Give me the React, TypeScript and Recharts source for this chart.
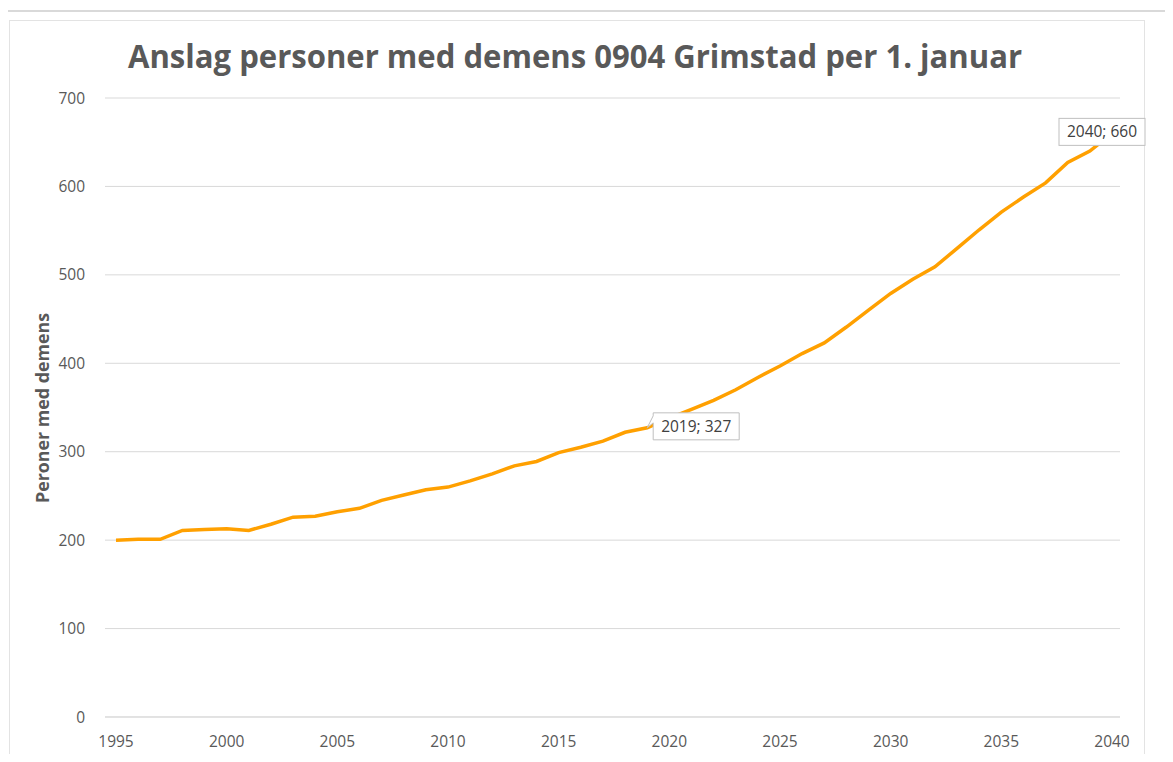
import React from "react";
import { LineChart, Line, XAxis, YAxis, CartesianGrid, LabelList } from "recharts";

const years = [
  1995, 1996, 1997, 1998, 1999, 2000, 2001, 2002, 2003, 2004, 2005, 2006, 2007, 2008, 2009, 2010,
  2011, 2012, 2013, 2014, 2015, 2016, 2017, 2018, 2019, 2020, 2021, 2022, 2023, 2024, 2025, 2026,
  2027, 2028, 2029, 2030, 2031, 2032, 2033, 2034, 2035, 2036, 2037, 2038, 2039, 2040,
];
const persons = [
  200, 201, 201, 211, 212, 213, 211, 218, 226, 227, 232, 236, 245, 251, 257, 260,
  267, 275, 284, 289, 299, 305, 312, 322, 327, 338, 348, 358, 370, 384, 397, 411,
  423, 441, 460, 479, 495, 509, 530, 551, 571, 588, 604, 627, 640, 660,
];
const xTicks = [1995, 2000, 2005, 2010, 2015, 2020, 2025, 2030, 2035, 2040];
const yTicks = [0, 100, 200, 300, 400, 500, 600, 700];
const labeledYears = [2019, 2040];

const data = years.map((year, i) => ({ year, value: persons[i] }));

const grey = "#595959";
const font = "'Open Sans', sans-serif";

// Excel-style data callouts, only for the highlighted years
function Callout(props: any) {
  const { x, y, index } = props;
  const d = data[index];
  if (!d || !labeledYears.includes(d.year)) return null;
  const text = `${d.year}; ${d.value}`;
  const w = 86;
  const h = 27;
  if (d.year === 2040) {
    const bx = x - 53;
    const by = y - 15;
    return (
      <g>
        <rect x={bx} y={by} width={w} height={h} fill="#fff" stroke="#bfbfbf" strokeWidth={1} />
        <text x={bx + w / 2} y={by + 19} textAnchor="middle" fontFamily={font} fontSize={15.5} fill="#404040">
          {text}
        </text>
      </g>
    );
  }
  const bx = x + 6;
  const by = y - 15;
  return (
    <g>
      <path
        d={`M${bx},${by + h} L${bx},${by + 10} L${x},${y} L${bx},${by + 3} L${bx},${by} L${bx + w},${by} L${bx + w},${by + h} Z`}
        fill="#fff"
        stroke="#bfbfbf"
        strokeWidth={1}
      />
      <text x={bx + w / 2} y={by + 19} textAnchor="middle" fontFamily={font} fontSize={15.5} fill="#404040">
        {text}
      </text>
    </g>
  );
}

export default function App() {
  return (
    <div style={{ position: "relative", margin: -8, width: 1173, height: 762, background: "#fff", overflow: "hidden" }}>
      {/* outer and inner frames */}
      <div style={{ position: "absolute", left: 4, top: 10, width: 1200, height: 800, border: "2px solid #d9d9d9" }} />
      <div style={{ position: "absolute", left: 9, top: 20, width: 1134, height: 739, border: "1px solid #e3e3e3" }} />
      <div style={{ position: "absolute", left: 0, top: 0 }}>
        <LineChart width={1173} height={762} data={data} margin={{ top: 98, right: 53, bottom: 15, left: 45 }}>
          <CartesianGrid vertical={false} stroke="#d9d9d9" />
          <XAxis
            dataKey="year"
            type="number"
            domain={[1995, 2040]}
            ticks={xTicks}
            padding={{ left: 11, right: 8 }}
            height={30}
            axisLine={{ stroke: "#d9d9d9" }}
            tickLine={false}
            tickMargin={13}
            tick={{ fill: grey, fontSize: 15.5, fontFamily: font }}
          />
          <YAxis
            domain={[0, 700]}
            ticks={yTicks}
            width={60}
            axisLine={false}
            tickLine={false}
            tickMargin={14}
            tick={{ fill: grey, fontSize: 15.5, fontFamily: font }}
          />
          <Line
            dataKey="value"
            stroke="#ffa000"
            strokeWidth={3.5}
            dot={false}
            isAnimationActive={false}
          >
            <LabelList dataKey="value" content={<Callout />} />
          </Line>
        </LineChart>
      </div>
      <svg width={1173} height={762} style={{ position: "absolute", left: 0, top: 0, pointerEvents: "none" }}>
        <text
          x={128}
          y={68}
          textLength={894}
          lengthAdjust="spacingAndGlyphs"
          fontFamily={font}
          fontWeight={700}
          fontSize={33}
          fill={grey}
        >
          Anslag personer med demens 0904 Grimstad per 1. januar
        </text>
        <text
          x={49}
          y={408}
          transform="rotate(-90 49 408)"
          textAnchor="middle"
          textLength={190}
          lengthAdjust="spacingAndGlyphs"
          fontFamily={font}
          fontWeight={700}
          fontSize={17.5}
          fill={grey}
        >
          Peroner med demens
        </text>
      </svg>
    </div>
  );
}
